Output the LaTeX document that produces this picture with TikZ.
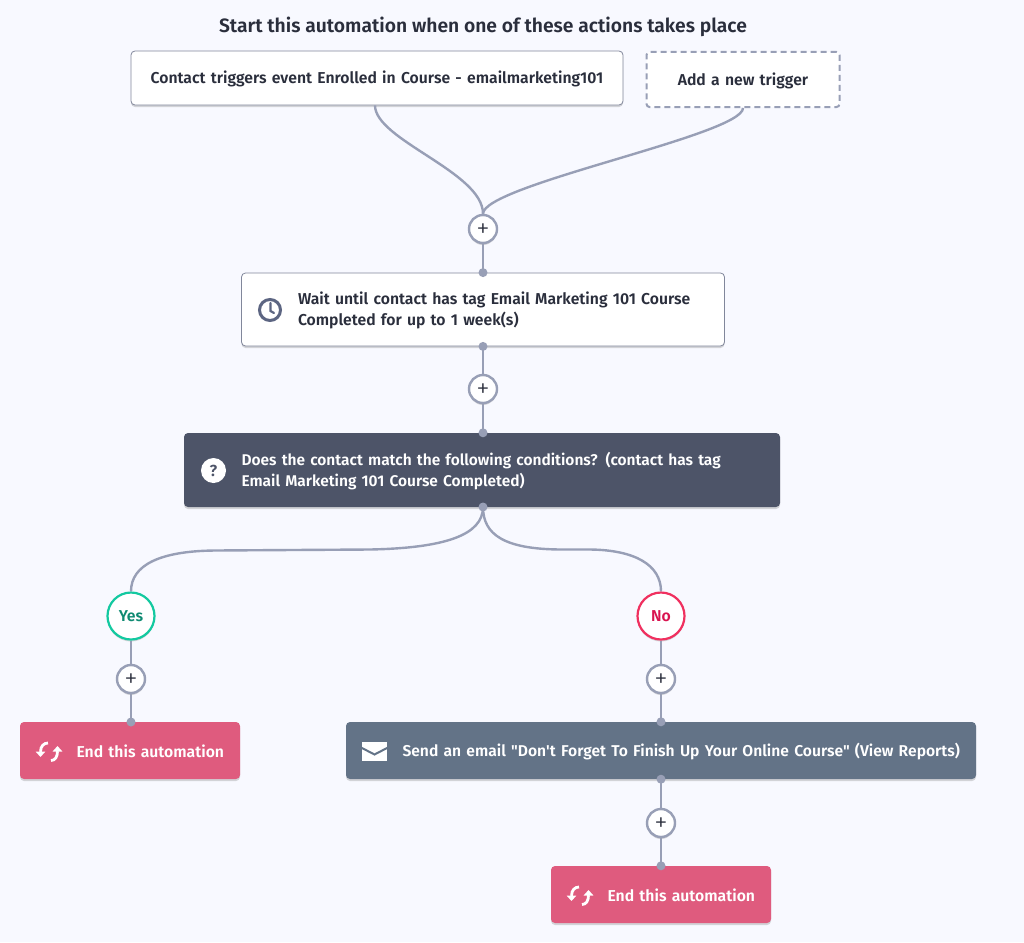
\documentclass[tikz,border=0pt]{standalone}
\usepackage{fontspec}
\setmainfont{Fira Sans}[BoldFont={Fira Sans SemiBold},Ligatures=TeXOff]
\newfontfamily\plusfont{Fira Sans Light}
\usetikzlibrary{shapes,arrows.meta,calc,positioning,shadows}

\definecolor{pagebg}{HTML}{F8F9FF}
\definecolor{wire}{HTML}{989FB6}
\definecolor{inkdark}{HTML}{2A2E3C}
\definecolor{slatedark}{HTML}{4D5468}
\definecolor{slateclock}{HTML}{5C6582}
\definecolor{slatemail}{HTML}{637387}
\definecolor{pinkend}{HTML}{DF5B7E}
\definecolor{greenyes}{HTML}{13C9A0}
\definecolor{greentext}{HTML}{0F8A72}
\definecolor{redno}{HTML}{F0305F}
\definecolor{redtext}{HTML}{D9134F}

\newcommand{\iconpad}{\hspace*{56.5pt}}
\newcommand{\labelfont}{\fontsize{15.75}{21}\selectfont\bfseries}
\newcommand{\topstrut}{\leavevmode\rule{0pt}{14.5pt}}

\tikzset{
  softshadow/.style={drop shadow={shadow xshift=0pt,shadow yshift=-2pt,opacity=0.22,fill=black!70}},
  flowbox/.style={rectangle,rounded corners=4pt,inner xsep=0pt,align=left,font=\labelfont,execute at begin node={\topstrut},softshadow},
  whitebox/.style={flowbox,draw=wire!85!black,line width=0.8pt,fill=white,text=inkdark},
  darkbox/.style={flowbox,fill=slatedark,text=white,font=\fontsize{15.5}{21}\selectfont\bfseries},
  mailbox/.style={flowbox,fill=slatemail,text=white,font=\fontsize{15.65}{21}\selectfont\bfseries},
  endbox/.style={flowbox,fill=pinkend,text=white,text width=220pt,minimum height=57pt},
  dashbox/.style={rectangle,rounded corners=3pt,inner xsep=0pt,draw=wire,dash pattern=on 6pt off 4pt,line width=2pt,fill=white,text=inkdark,font=\labelfont,align=center,execute at begin node={\topstrut}},
  plusnode/.style={circle,draw=wire,line width=2.4pt,fill=white,minimum size=28pt,inner sep=0pt,text=inkdark,text height=16pt,text depth=0pt,font=\plusfont\fontsize{27}{27}\selectfont,softshadow},
  yesnode/.style={circle,draw=greenyes,line width=2.2pt,fill=white,minimum size=47pt,inner sep=0pt,text=greentext,font=\labelfont,softshadow},
  nonode/.style={yesnode,draw=redno,text=redtext},
  dotnode/.style={circle,fill=wire,minimum size=9pt,inner sep=0pt},
  wireline/.style={draw=wire,line width=2.4pt},
  refreshicon/.pic={
    \draw[white,line width=2.8pt,-{Triangle[length=5.5pt,width=9.5pt]}] (-2,-8) .. controls (-6,-8) and (-9.5,-5) .. (-9.5,6);
    \draw[white,line width=2.8pt,-{Triangle[length=5.5pt,width=9.5pt]}] (1,9.5) .. controls (5,9.5) and (7.5,6) .. (7.5,-5);
  },
  mailicon/.pic={
    \fill[white] (-12.5,-9.5) rectangle (12.5,9.5);
    \draw[slatemail,line width=2pt] (-13.5,-4) -- (0,3) -- (13.5,-4);
  }
}

\begin{document}
\begin{tikzpicture}[%
    x=1pt,
    y=-1pt,
    >=stealth,
    on grid
  ]
  \fill[pagebg] (0,0) rectangle (1024,942);

  \node (title) at (483,27) [font=\fontsize{19.3}{21}\selectfont\bfseries,text=inkdark] {Start this automation when one of these actions takes place};

  \node[whitebox,text width=492pt,minimum height=54pt,align=center] (trigger) at (377,78) {Contact triggers event Enrolled in Course - emailmarketing101};
  \node[dashbox,text width=193pt,minimum height=55pt] (addtrigger) at (743,79.5) {Add a new trigger};

  \node[plusnode] (plus1) at (483,229) {+};
  \node[whitebox,text width=483pt,minimum height=73pt] (wait) [below=80.5pt of plus1] {\iconpad Wait until contact has tag Email Marketing 101 Course\\\iconpad Completed for up to 1 week(s)};
  \node[plusnode] (plus2) [below=160pt of plus1] {+};
  \node[darkbox,text width=596pt,minimum height=74pt,xshift=-1pt] (condition) [below=81pt of plus2] {\iconpad\hspace*{1pt}Does the contact match the following conditions? (contact has tag\\\iconpad\hspace*{1pt}Email Marketing 101 Course Completed)};

  \node[yesnode] (yes) at (131,616) {Yes};
  \node[nonode] (no) at (661,616) {No};
  \node[plusnode] (plusyes) [below=63pt of yes] {+};
  \node[plusnode] (plusno) [below=63pt of no] {+};
  \node[endbox,xshift=-1pt] (endyes) [below=71.5pt of plusyes] {\iconpad End this automation};
  \node[mailbox,text width=630pt,minimum height=57pt] (email) [below=71.5pt of plusno] {\iconpad Send an email "Don't Forget To Finish Up Your Online Course" (View Reports)};
  \node[plusnode] (plusmail) [below=144pt of plusno] {+};
  \node[endbox] (endno) [below=71.5pt of plusmail] {\iconpad End this automation};

  \coordinate (triggerout) at ($(trigger.south)+(-2,0)$);
  \coordinate (condout) at (483,507);
  \coordinate (endyesin) at (131,722);

  \path[wireline] (triggerout) .. controls (375,140) and (483,172) .. (plus1.north);
  \path[wireline] (addtrigger.south) .. controls (743,135) and (483,185) .. (plus1.north);
  \path[wireline] (condout) .. controls (483,535) and (445,548) .. (370,549.5) -- (215,550.5) .. controls (160,551) and (131,565) .. (yes.north);
  \path[wireline] (condout) .. controls (483,535) and (505,549) .. (560,549.5) -- (590,549.5) .. controls (635,550) and (661,565) .. (no.north);

  \path[wireline] (plus1) -- (wait.north);
  \path[wireline] (wait.south) -- (plus2);
  \path[wireline] (plus2) -- (plus2 |- condition.north);
  \path[wireline] (yes) -- (plusyes);
  \path[wireline] (plusyes) -- (endyesin);
  \path[wireline] (no) -- (plusno);
  \path[wireline] (plusno) -- (email.north);
  \path[wireline] (email.south) -- (plusmail);
  \path[wireline] (plusmail) -- (endno.north);

  \node[dotnode] (dotwaitin) at (wait.north) {};
  \node[dotnode] (dotwaitout) at (wait.south) {};
  \node[dotnode] (dotcondin) at (plus2 |- condition.north) {};
  \node[dotnode] (dotcondout) at (condout) {};
  \node[dotnode] (dotendyes) at (endyesin) {};
  \node[dotnode] (dotemailin) at (email.north) {};
  \node[dotnode] (dotemailout) at (email.south) {};
  \node[dotnode] (dotendno) at (endno.north) {};

  \node[circle,draw=slateclock,line width=3pt,minimum size=21pt,inner sep=0pt] (clock) at (270,310) {};
  \draw[slateclock,line width=2.2pt,line cap=round] (270.5,303) -- (270.5,311) -- (274,313);

  \node[circle,fill=white,minimum size=25pt,inner sep=0pt,text=slatedark,font=\fontsize{16}{16}\selectfont\bfseries] (question) at (213.5,470.5) {?};

  \pic at (50,751) {refreshicon};
  \pic at (581,895) {refreshicon};
  \pic at (374.5,751.5) {mailicon};
\end{tikzpicture}
\end{document}
